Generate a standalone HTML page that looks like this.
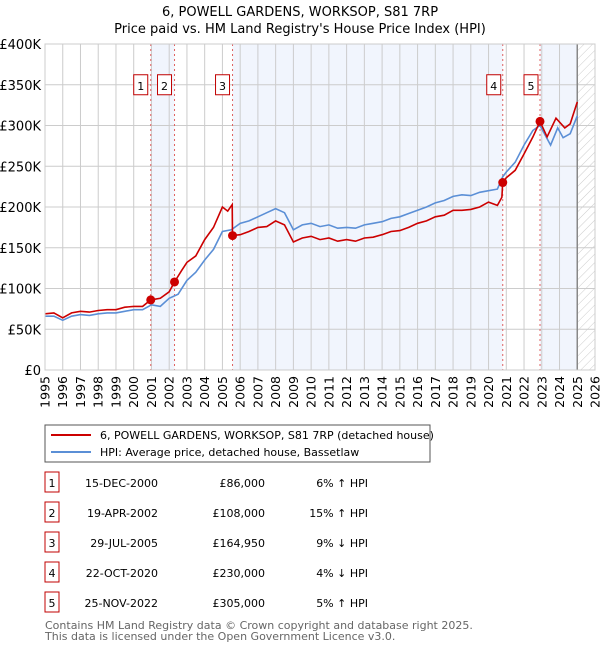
<!DOCTYPE html>
<html><head><meta charset="utf-8"><style>
body{margin:0;background:#fff;font-family:"DejaVu Sans","Liberation Sans",sans-serif;}
svg text{font-family:"DejaVu Sans","Liberation Sans",sans-serif;}
</style></head><body>
<svg width="600" height="650" xmlns="http://www.w3.org/2000/svg">
<defs><pattern id="hatch" width="6" height="6" patternUnits="userSpaceOnUse" patternTransform="rotate(45)"><line x1="0" y1="0" x2="0" y2="6" stroke="#ccc" stroke-width="1"/></pattern></defs>
<text x="300" y="16" text-anchor="middle" font-size="13">6, POWELL GARDENS, WORKSOP, S81 7RP</text>
<text x="300" y="33" text-anchor="middle" font-size="13">Price paid vs. HM Land Registry's House Price Index (HPI)</text>
<g id="plot"></g>
<g id="legend">
<rect x="45" y="425" width="385" height="37" fill="#fff" stroke="#555"/>
<line x1="51" y1="435" x2="91" y2="435" stroke="#cc0000" stroke-width="2"/>
<text x="100" y="439" font-size="11">6, POWELL GARDENS, WORKSOP, S81 7RP (detached house)</text>
<line x1="51" y1="452" x2="91" y2="452" stroke="#5b8fd6" stroke-width="2"/>
<text x="100" y="456" font-size="11">HPI: Average price, detached house, Bassetlaw</text>
</g>
<g id="table"></g>
<text x="45" y="629" font-size="11" fill="#666">Contains HM Land Registry data © Crown copyright and database right 2025.</text>
<text x="45" y="640" font-size="11" fill="#666">This data is licensed under the Open Government Licence v3.0.</text>
</svg>
<script>
const hpiYears=[1995,1995.5,1996,1996.5,1997,1997.5,1998,1998.5,1999,1999.5,2000,2000.5,2001,2001.5,2002,2002.5,2003,2003.5,2004,2004.5,2005,2005.5,2006,2006.5,2007,2007.5,2008,2008.5,2009,2009.5,2010,2010.5,2011,2011.5,2012,2012.5,2013,2013.5,2014,2014.5,2015,2015.5,2016,2016.5,2017,2017.5,2018,2018.5,2019,2019.5,2020,2020.5,2020.8,2021,2021.5,2022,2022.5,2022.9,2023.5,2023.9,2024.2,2024.6,2025];
const hpiValues=[66,66,61,66,68,67,69,70,70,72,74,74,80,78,88,93,110,120,135,148,170,172,180,183,188,193,198,193,172,178,180,176,178,174,175,174,178,180,182,186,188,192,196,200,205,208,213,215,214,218,220,222,237,243,255,276,294,300,276,297,285,290,312];
const redYears=[1995,1995.5,1996,1996.5,1997,1997.5,1998,1998.5,1999,1999.5,2000,2000.5,2000.96,2001.5,2002,2002.3,2002.7,2003,2003.5,2004,2004.5,2005,2005.3,2005.55,2005.57,2006,2006.5,2007,2007.5,2008,2008.5,2009,2009.5,2010,2010.5,2011,2011.5,2012,2012.5,2013,2013.5,2014,2014.5,2015,2015.5,2016,2016.5,2017,2017.5,2018,2018.5,2019,2019.5,2020,2020.5,2020.75,2020.8,2021,2021.5,2022,2022.5,2022.9,2023.3,2023.8,2024.3,2024.6,2025];
const redValues=[69,70,64,70,72,71,73,74,74,77,78,78,86,88,96,108,122,132,140,160,175,200,195,203,165,166,170,175,176,183,178,157,162,164,160,162,158,160,158,162,163,166,170,171,175,180,183,188,190,196,196,197,200,206,202,212,230,236,245,265,286,305,286,309,297,302,329];
const saleYears=[2000.96,2002.3,2005.57,2020.8,2022.9];
const saleValues=[86,108,164.95,230,305];
const saleLabels=["1","2","3","4","5"];
const saleDates=["15-DEC-2000","19-APR-2002","29-JUL-2005","22-OCT-2020","25-NOV-2022"];
const salePrices=["£86,000","£108,000","£164,950","£230,000","£305,000"];
const saleHpi=["6% ↑ HPI","15% ↑ HPI","9% ↓ HPI","4% ↓ HPI","5% ↑ HPI"];
const yTicks=[0,50,100,150,200,250,300,350,400];
const yTickLabels=["£0","£50K","£100K","£150K","£200K","£250K","£300K","£350K","£400K"];
const xTicks=[1995,1996,1997,1998,1999,2000,2001,2002,2003,2004,2005,2006,2007,2008,2009,2010,2011,2012,2013,2014,2015,2016,2017,2018,2019,2020,2021,2022,2023,2024,2025,2026];
const dataEnd=2025.0;

const L=45,R=595,T=44,B=370;
const X=y=>L+(y-1995)/(2026-1995)*(R-L);
const Y=v=>B-v/400*(B-T);
const NS="http://www.w3.org/2000/svg";
function mk(tag,attrs,parent,txt){const e=document.createElementNS(NS,tag);for(const k in attrs)e.setAttribute(k,attrs[k]);if(txt!==undefined)e.textContent=txt;parent.appendChild(e);return e;}
const plot=document.getElementById('plot');
const bands=[[saleYears[0],saleYears[1]],[saleYears[2],saleYears[3]],[saleYears[4],dataEnd]];
bands.forEach(b=>{const r=mk('rect',{x:X(b[0]),y:T,width:X(b[1])-X(b[0]),height:B-T,fill:'#eef3fc',opacity:0.8},plot);

});
const h=mk('rect',{x:X(dataEnd),y:T,width:R-X(dataEnd),height:B-T,fill:'url(#hatch)'},plot);


yTicks.forEach((t,i)=>{const g=mk('line',{x1:L,x2:R,y1:Y(t),y2:Y(t),stroke:'#ccc'},plot);


const tx=mk('text',{x:L-4,y:Y(t)+5,'text-anchor':'end','font-size':13},plot,yTickLabels[i]);

});
xTicks.forEach(t=>{const g=mk('line',{x1:X(t),x2:X(t),y1:T,y2:B,stroke:'#ccc'},plot);


const tx=mk('text',{x:0,y:0,'text-anchor':'end','font-size':12.5,transform:`translate(${X(t)+4.5},${B+6}) rotate(-90)`},plot,String(t));

});
const dl=mk('line',{x1:X(dataEnd),x2:X(dataEnd),y1:T,y2:B,stroke:'#888','stroke-width':1.5},plot);


saleYears.forEach((s,i)=>{const l=mk('line',{x1:X(s),x2:X(s),y1:T,y2:B,stroke:'#e06060','stroke-dasharray':'2,3'},plot);


const bx=X(s)-(i<3?3:2)-14;
const r=mk('rect',{x:bx,y:Y(350)-10,width:14,height:20,fill:'#fff',stroke:'#c00000'},plot);


const t=mk('text',{x:bx+7,y:Y(350)+5,'text-anchor':'middle','font-size':11},plot,saleLabels[i]);

});
const path=(ys,vs)=>ys.map((y,i)=>(i?'L':'M')+X(y).toFixed(1)+','+Y(vs[i]).toFixed(1)).join('');
const hp=mk('path',{d:path(hpiYears,hpiValues),fill:'none',stroke:'#5b8fd6','stroke-width':1.6},plot);


const rp=mk('path',{d:path(redYears,redValues),fill:'none',stroke:'#cc0000','stroke-width':1.6},plot);


saleYears.forEach((s,i)=>{const c=mk('circle',{cx:X(s),cy:Y(saleValues[i]),r:4.5,fill:'#cc0000'},plot);

});
const fr=mk('rect',{x:L,y:T,width:R-L,height:B-T,fill:'none',stroke:'#ccc'},plot);


const tb=document.getElementById('table');
saleLabels.forEach((n,i)=>{const y=483+i*30;
const r=mk('rect',{x:45,y:y-11,width:14,height:20,fill:'#fff',stroke:'#c00000'},tb);


const a=mk('text',{x:52,y:y+4,'text-anchor':'middle','font-size':11},tb,n);


const d=mk('text',{x:158,y:y+4,'text-anchor':'end','font-size':11},tb,saleDates[i]);


const p=mk('text',{x:265,y:y+4,'text-anchor':'end','font-size':11},tb,salePrices[i]);


const q=mk('text',{x:368,y:y+4,'text-anchor':'end','font-size':11},tb,saleHpi[i]);

});
</script>
</body></html>
